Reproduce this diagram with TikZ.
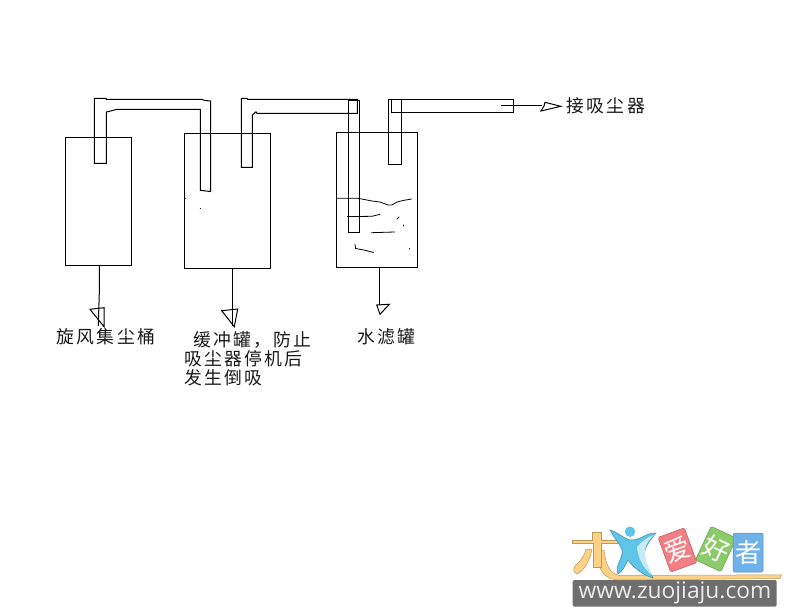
\documentclass[tikz,border=0pt]{standalone}
\usepackage{fontspec}
\newfontfamily\cjk[LetterSpace=13]{Noto Sans CJK SC}
\newfontfamily\logocjk{Noto Sans CJK SC}
\newfontfamily\logolat{Open Sans}
\tikzset{
  ln/.style={draw=black,line width=1pt,line join=miter},
  thin ln/.style={draw=black,line width=0.8pt,line cap=round},
  lab/.style={anchor=west,inner sep=0pt,outer sep=0pt,text=black!90,font=\fontsize{17.8}{19}\cjk},
  tile/.style={rounded corners=1.5pt,draw=#1!75!black,fill=#1,line width=0.5pt,minimum width=28pt,minimum height=37pt,inner sep=0pt,text=white,font=\fontsize{26}{27}\logocjk},
}
\definecolor{tp}{HTML}{F27F83}
\definecolor{tg}{HTML}{8CCB6A}
\definecolor{tb}{HTML}{6FB2EA}
\definecolor{lgy}{HTML}{FDD285}
\definecolor{lgyd}{HTML}{B89A5E}
\definecolor{lgb}{HTML}{5FC5E8}
\definecolor{lgbl}{HTML}{C5EAF6}
\definecolor{band}{HTML}{6E6E6E}
\begin{document}
\begin{tikzpicture}[x=1pt,y=-1pt]
\useasboundingbox (0,0) rectangle (788,615);
% tanks
\node[ln,anchor=north west,minimum width=66.4pt,minimum height=128pt,inner sep=0pt,outer sep=0pt] (t1) at (65.3,137.3) {};
\node[ln,anchor=north west,minimum width=86pt,minimum height=135pt,inner sep=0pt,outer sep=0pt] (t2) at (184.3,133.3) {};
\node[ln,anchor=north west,minimum width=81.4pt,minimum height=135pt,inner sep=0pt,outer sep=0pt] (t3) at (336.3,132.3) {};
% pipes
\draw[ln] (94.3,98.3) -- (106,98.3) -- (106.3,99.3) -- (201.7,99.3) -- (205,100.5) -- (210.5,101) -- (210.5,191.5) -- (206,191) -- (200.3,190.3) -- (200.3,109.3) -- (116.7,109.3) -- (112,110.7) -- (106.3,112) -- (106.3,163.3) -- (94.3,163.3) -- cycle;
\draw[ln] (241.3,98.3) -- (247,98.3) -- (247.5,99.3) -- (357.3,99.3) -- (357.3,113.3) -- (257,113.3) -- (256,111.8) -- (252.3,115) -- (252.3,167.3) -- (241.3,167.3) -- cycle;
\draw[ln] (348.3,101) rectangle (359.3,232.3);
\draw[ln] (388.3,99.3) rectangle (401.7,164.3);
\draw[ln] (391.7,99.3) -- (513.3,99.3) -- (513.3,112.3) -- (391.7,112.3) -- cycle;
% water
\draw[thin ln] (336.6,198.3) -- (358,198.3) -- (372,201) -- (380,202) -- (388,205) -- (392,205) -- (397,202) -- (403,200.5) -- (411.5,199);
\draw[thin ln] (347.3,216.6) -- (372,216.3) -- (380,214.3);
\draw[thin ln] (371.5,232.7) -- (394.6,232);
\draw[thin ln] (355,244.6) -- (355.6,248.5) -- (364,250) -- (373.6,252.5);
\draw[thin ln] (397,219) -- (399,217);
\draw[thin ln] (403,225) -- (403,226);
\draw[thin ln] (409.3,248.5) -- (409.3,249);
\draw[thin ln] (200.2,208.3) -- (200.5,208.6);
\draw[thin ln] (185,198.3) -- (185.3,198.6);
% outlet arrow
\coordinate (o0) at (501,105.7);
\coordinate (o1) at (541.7,105.7);
\draw[ln] (o0) -- (526,105.7) -- (o1);
\draw[ln] (545,102.3) -- (560.7,106.3) -- (541,111) -- (544,106) -- cycle;
% bottom arrows
\coordinate (a1) at (98.3,326);
\draw[ln] (99.3,265.3) -- (99.3,293) -- (a1);
\draw[ln] (90,309.3) -- (104,307.7) -- (104,326.7) -- cycle;
\coordinate (a2) at (232.3,326);
\draw[ln] (232.3,268.3) -- (a2);
\draw[ln] (221.7,310.7) -- (237.7,309) -- (234.3,326.7) -- cycle;
\coordinate (a3) at (379.3,305);
\draw[ln] (379.3,267.3) -- (a3);
\draw[ln] (376.7,305) -- (389.3,304.3) -- (380,314.3) -- cycle;
% labels
\node[lab] (l1) at (56.7,336.7) {旋风集尘桶};
\node[lab] (l2a) at (193,340) {缓冲罐，防止};
\node[lab] (l2b) at (184.3,359) {吸尘器停机后};
\node[lab] (l2c) at (184.3,378) {发生倒吸};
\node[lab] (l3) at (357,336.7) {水滤罐};
\node[lab] (l4) at (566.7,105.7) {接吸尘器};
% logo
\fill[band,rounded corners=2pt] (572.7,580) rectangle (776.7,606.7);
\node[inner sep=0pt,text=white!92!black,font=\fontsize{22.8}{24}\logolat] (url) at (675,592.5) {www.zuojiaju.com};
\path[fill=lgy,draw=lgyd,line width=0.5pt] (604,550) .. controls (606,566) and (610,574) .. (620,575.5) -- (781.5,574.8) -- (780,578.5) -- (620,580) .. controls (604,580) and (598,570) .. (596.5,552) -- cycle;
\path[fill=lgy,draw=lgyd,line width=0.5pt] (592,532) -- (601.5,532) -- (601.5,540) -- (618,540) -- (618,543.5) -- (601.5,543.5) -- (601.5,567) -- (593,567) -- (593,543.5) -- (572.5,543.5) -- (572.5,540) -- (592,540) -- cycle;
\path[fill=lgy,draw=lgyd,line width=0.5pt] (586,549) -- (592,549) .. controls (590,560) and (585,570) .. (577,574) .. controls (573,572) and (573,570) .. (575,566) .. controls (580,562) and (585,555) .. (586,549) -- cycle;
\path[fill=lgb,draw=lgb!70!black,line width=0.5pt] (610,530) .. controls (618,532) and (625,540) .. (632,540) .. controls (640,540) and (648,532) .. (656,533) .. controls (650,540) and (644,548) .. (644,556) .. controls (646,565) and (650,572) .. (653,578) .. controls (642,575) and (632,566) .. (628,560) .. controls (625,566) and (622,572) .. (618,574) .. controls (614,566) and (624,557) .. (622,550) .. controls (620,544) and (614,538) .. (610,530) -- cycle;
\path[fill=lgbl] (637,547) .. controls (642,541) and (648,537) .. (654,535) .. controls (647,541) and (644,548) .. (645,555) .. controls (646,563) and (650,570) .. (653,576) .. controls (645,570) and (638,560) .. (637,547) -- cycle;
\fill[lgb] (630,531.7) circle (5.2pt);
\node[tile=tp,rotate=20] (lgA) at (677.5,550) {爱};
\node[tile=tg,rotate=-25] (lgB) at (716,549) {好};
\node[tile=tb,minimum width=30pt,minimum height=39pt] (lgC) at (748,552.5) {者};
\end{tikzpicture}
\end{document}
